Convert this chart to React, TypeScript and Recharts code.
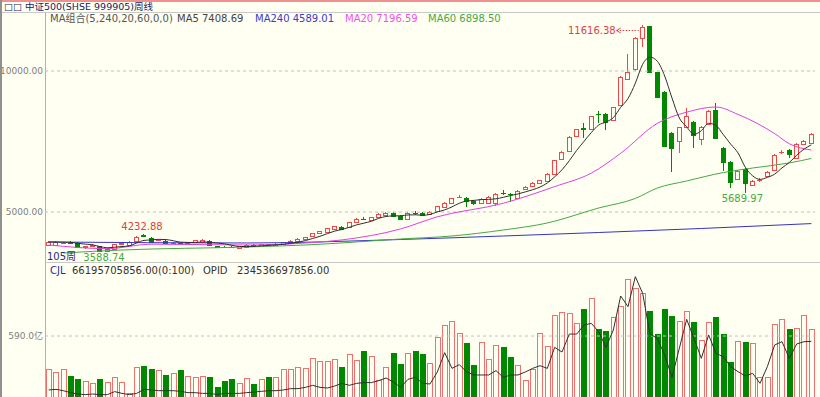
import React from "react";
import {
  ComposedChart,
  Bar,
  Line,
  XAxis,
  YAxis,
  ReferenceLine,
  ReferenceDot,
} from "recharts";

// weekly bars of 中证500 (105 weeks)
const opens = [
  3830, 3840, 3900, 3910, 3900, 3760, 3790, 3780, 3600, 3700,
  3880, 3840, 3970, 4170, 4080, 3990, 3970, 3890, 3905, 3890,
  3940, 3950, 3980, 3780, 3770, 3760, 3730, 3770, 3830, 3790,
  3850, 3820, 3870, 3910, 3980, 4040, 4140, 4250, 4300, 4400,
  4470, 4470, 4650, 4760, 4720, 4830, 4900, 4960, 4860, 4760,
  4980, 4960, 4920, 5030, 5180, 5320, 5520, 5500, 5390, 5320,
  5320, 5320, 5680, 5650, 5500, 5820, 5920, 6030, 6100, 6350,
  6880, 7160, 7690, 7990, 7940, 8480, 8480, 8260, 8790, 9720,
  10070, 11170, 11590, 9960, 9255, 7800, 7520, 8010, 8190, 7590,
  8120, 8620, 7270, 6770, 6170, 6520, 5960, 6120, 6280, 6490,
  7110, 7200, 6920, 7410, 7450,
];
const closes = [
  3936, 3940, 3915, 3895, 3760, 3790, 3820, 3600, 3690, 3860,
  3905, 3940, 4110, 4150, 3940, 4010, 3900, 3905, 3890, 3900,
  4000, 4000, 3840, 3760, 3750, 3745, 3790, 3830, 3790, 3850,
  3820, 3880, 3920, 3970, 4050, 4110, 4250, 4320, 4430, 4500,
  4400, 4640, 4750, 4740, 4820, 4930, 4960, 4860, 4760, 4970,
  4950, 4890, 5000, 5210, 5320, 5490, 5540, 5390, 5320, 5460,
  5530, 5640, 5660, 5630, 5745, 5890, 6030, 6130, 6350, 6840,
  7130, 7660, 7940, 7960, 8400, 8460, 8190, 8720, 9790, 9960,
  11170, 11560, 9965, 9080, 7340, 7270, 8010, 8400, 7730, 8010,
  8580, 7620, 6770, 6060, 6450, 6030, 6100, 6140, 6420, 7020,
  7140, 7060, 7410, 7520, 7770,
];
const highs = [
  3970, 3975, 3950, 3960, 3920, 3800, 3850, 3800, 3710, 3880,
  3940, 3960, 4140, 4232.88, 4120, 4050, 4000, 3930, 3930, 3930,
  4020, 4030, 4000, 3800, 3790, 3790, 3810, 3850, 3850, 3870,
  3870, 3900, 3940, 3990, 4070, 4130, 4270, 4340, 4450, 4520,
  4500, 4660, 4780, 4810, 4840, 4950, 4990, 4990, 4880, 4990,
  5030, 4990, 5020, 5230, 5340, 5510, 5600, 5520, 5410, 5480,
  5550, 5660, 5770, 5680, 5770, 5910, 6050, 6150, 6370, 6860,
  7150, 7680, 7960, 8160, 8420, 8580, 8520, 8740, 9810, 10600,
  11200, 11616.38, 11600, 9980, 9300, 7850, 8030, 8688, 8230, 8040,
  8610, 8865, 7290, 6800, 6480, 6550, 6130, 6200, 6440, 7040,
  7200, 7220, 7430, 7540, 7800,
];
const lows = [
  3800, 3810, 3870, 3860, 3740, 3700, 3760, 3588.74, 3590, 3680,
  3850, 3820, 3950, 4100, 3920, 3960, 3880, 3860, 3860, 3860,
  3920, 3930, 3820, 3720, 3720, 3720, 3710, 3750, 3770, 3770,
  3800, 3800, 3850, 3890, 3960, 4020, 4120, 4230, 4280, 4380,
  4380, 4450, 4630, 4700, 4700, 4810, 4880, 4840, 4720, 4740,
  4900, 4870, 4900, 5010, 5160, 5300, 5500, 5180, 5260, 5300,
  5300, 5200, 5600, 5360, 5480, 5800, 5900, 6010, 6080, 6330,
  6860, 7140, 7670, 7620, 7920, 8160, 7910, 8240, 8770, 9700,
  10000, 10850, 9950, 9050, 7300, 6418, 7092, 7990, 7269, 7376,
  8100, 7600, 6454, 5851, 6150, 5689.97, 5940, 6080, 6260, 6470,
  7060, 6915, 6900, 7390, 7430,
];
// 成交量, 亿
const volumes = [
  268, 245, 274, 206, 171, 152, 132, 171, 145, 190,
  145, 42, 293, 300, 274, 261, 210, 229, 261, 203,
  190, 203, 190, 100, 152, 171, 139, 184, 126, 171,
  197, 197, 274, 268, 293, 280, 377, 351, 351, 371,
  293, 416, 358, 448, 396, 164, 293, 429, 319, 422,
  448, 416, 332, 577, 699, 732, 622, 525, 313, 532,
  371, 506, 480, 390, 313, 164, 274, 622, 493, 790,
  822, 815, 712, 854, 957, 654, 635, 777, 880, 1138,
  1054, 1002, 835, 609, 854, 783, 732, 828, 725, 551,
  725, 777, 609, 338, 538, 532, 519, 197, 197, 706,
  757, 654, 667, 796, 654,
];
// OPID line in the volume pane, same units
const opidLine = [
  68, 74, 61, 42, 29, 23, 29, 23, 23, 52,
  35, 23, 35, 74, 68, 61, 61, 61, 55, 42,
  42, 35, 35, 23, 35, 35, 35, 42, 48, 55,
  61, 61, 68, 81, 81, 93, 113, 93, 87, 106,
  132, 113, 132, 139, 139, 158, 184, 145, 93, 171,
  190, 132, 126, 242, 429, 277, 313, 242, 213, 213,
  213, 255, 190, 213, 213, 242, 277, 303, 277, 480,
  435, 609, 609, 696, 712, 632, 480, 648, 977, 874,
  1164, 1002, 609, 567, 406, 190, 471, 751, 567, 374,
  600, 422, 390, 293, 245, 203, 229, 132, 293, 503,
  535, 374, 513, 535, 538,
];
// moving averages read at a few weeks: [week, value]
const ma20Pts = [
  [0, 3830], [8, 3700], [14, 3860], [27, 3830], [35, 3900], [40, 4010],
  [48, 4400], [53, 4830], [62, 5310], [69, 5900], [74, 6380], [78, 7081],
  [83, 8145], [87, 8540], [91, 8723], [94, 8460], [99, 7780], [101, 7420],
  [104, 7196.59],
];
const ma60Pts = [
  [2, 3547], [10, 3653], [27, 3759], [35, 3830], [48, 4043], [55, 4149],
  [62, 4362], [68, 4610], [75, 5142], [80, 5480], [83, 5850], [87, 6100],
  [92, 6400], [96, 6560], [101, 6740], [104, 6898.5],
];
const ma240Pts = [
  [0, 3936], [27, 3901], [48, 4025], [62, 4149], [75, 4273], [89, 4415],
  [104, 4589.01],
];

const BG = "#fffff2";
const UP = "#f04848";
const UP_VOL = "#f07070";
const DOWN = "#008800";
const FONT = '"DejaVu Sans", "Noto Sans CJK SC", sans-serif';

const rows: any[] = opens.map((o, i) => {
  const win = closes.slice(Math.max(0, i - 4), i + 1);
  return {
    i,
    open: o,
    close: closes[i],
    high: highs[i],
    low: lows[i],
    range: [lows[i], highs[i]],
    ma5: win.reduce((a, b) => a + b, 0) / win.length,
    ma20: null,
    ma60: null,
    ma240: null,
    vol: volumes[i],
    opid: opidLine[i],
  };
});
ma20Pts.forEach(([i, v]) => (rows[i].ma20 = v));
ma60Pts.forEach(([i, v]) => (rows[i].ma60 = v));
ma240Pts.forEach(([i, v]) => (rows[i].ma240 = v));

function Candle(props: any) {
  const { x, y, width, height, payload } = props;
  if (x == null || y == null) return null;
  const top = Math.min(y, y + height);
  const h = Math.abs(height);
  const span = payload.high - payload.low;
  const k = span > 0 ? h / span : 0;
  const up = payload.close >= payload.open;
  const color = up ? UP : DOWN;
  const bTop = Math.round(top + (payload.high - Math.max(payload.open, payload.close)) * k);
  const bBot = Math.round(top + (payload.high - Math.min(payload.open, payload.close)) * k);
  const left = Math.round(x);
  const w = Math.round(width);
  const cx = left + Math.floor(w / 2) + 0.5;
  const yTop = Math.round(top);
  const yBot = Math.round(top + h);
  const flat = bBot - bTop < 1;
  if (flat) {
    return (
      <g shapeRendering="crispEdges">
        <line x1={cx} x2={cx} y1={yTop} y2={yBot} stroke={color} />
        <line x1={left} x2={left + w} y1={bTop + 0.5} y2={bTop + 0.5} stroke={color} />
      </g>
    );
  }
  if (up) {
    return (
      <g shapeRendering="crispEdges">
        <line x1={cx} x2={cx} y1={yTop} y2={bTop} stroke={color} />
        <line x1={cx} x2={cx} y1={bBot} y2={yBot} stroke={color} />
        <rect x={left + 0.5} y={bTop + 0.5} width={w - 1} height={bBot - bTop} fill={BG} stroke={color} />
      </g>
    );
  }
  return (
    <g shapeRendering="crispEdges">
      <line x1={cx} x2={cx} y1={yTop} y2={yBot} stroke={color} />
      <rect x={left} y={bTop} width={w} height={bBot - bTop + 1} fill={color} />
    </g>
  );
}

function VolBar(props: any) {
  const { x, y, width, height, payload } = props;
  if (x == null || y == null) return null;
  const up = payload.close >= payload.open;
  const left = Math.round(x);
  const w = Math.round(width);
  const t = Math.round(y);
  const hh = Math.round(y + height) - t;
  if (up) {
    return (
      <rect x={left + 0.5} y={t + 0.5} width={w - 1} height={hh} fill={BG} stroke={UP_VOL} shapeRendering="crispEdges" />
    );
  }
  return <rect x={left} y={t} width={w} height={hh + 1} fill={DOWN} shapeRendering="crispEdges" />;
}

const txt = { fontFamily: FONT, fontSize: 10 };

function PeakMark(p: any) {
  const { cx, cy } = p;
  const ly = Math.round(cy + 5) + 0.5;
  return (
    <g>
      <text x={cx - 27} y={ly} dy="0.35em" textAnchor="end" fill="#e04040" style={txt}>
        11616.38
      </text>
      <path d={`M${cx - 26},${ly} l4,-2.5 M${cx - 26},${ly} l4,2.5`} stroke="#e04040" fill="none" />
      <line x1={cx - 26} x2={cx - 4} y1={ly} y2={ly} stroke="#e04040" strokeDasharray="1.5 1.5" />
    </g>
  );
}

function TextMark(label: string, color: string, dx: number, dy: number) {
  return (p: any) => (
    <text x={p.cx + dx} y={p.cy + dy} dy="0.35em" textAnchor="middle" fill={color} style={txt}>
      {label}
    </text>
  );
}

const abs = (left: number, top: number, color: string, size = 10): React.CSSProperties => ({
  position: "absolute",
  left,
  top,
  color,
  fontSize: size,
  lineHeight: "10px",
  whiteSpace: "nowrap",
  fontFamily: FONT,
});

export default function App() {
  return (
    <div
      style={{
        position: "absolute",
        left: 0,
        top: 0,
        width: 820,
        height: 397,
        background: BG,
        overflow: "hidden",
      }}
    >
      <div style={{ position: "absolute", left: 0, top: 0, width: 820, height: 2, background: "#f09090" }} />
      <div style={{ position: "absolute", left: 0, top: 12, width: 820, height: 1, background: "#c8c8c8" }} />
      <div style={{ position: "absolute", left: 0, top: 0, width: 2, height: 397, background: "#909090" }} />
      <div style={{ position: "absolute", left: 45, top: 13, width: 1, height: 384, background: "#b0b0b0" }} />
      <div style={{ position: "absolute", left: 45, top: 262, width: 775, height: 1, background: "#c8c8c8" }} />

      <div style={abs(4, 2, "#1a1a66", 9.5)}>□□ 中证500(SHSE 999905)周线</div>

      <div style={{ position: "absolute", left: 0, top: 262 }}>
        <ComposedChart width={820} height={135} data={rows} margin={{ top: 2, right: 5, bottom: 0, left: 0 }}>
          <XAxis dataKey="i" type="category" hide />
          <YAxis
            domain={[0, 1286.4]}
            ticks={[590]}
            allowDataOverflow
            width={45}
            axisLine={false}
            tickLine={false}
            tickSize={0}
            tickMargin={2}
            interval={0}
            tick={{ fontSize: 9, fill: "#808080", fontFamily: FONT }}
            tickFormatter={(v: number) => `${v.toFixed(1)}亿`}
          />
          <ReferenceLine y={590} stroke="#c0c0c0" strokeDasharray="3 3" />
          <Bar dataKey="vol" barSize={6} shape={VolBar} isAnimationActive={false} />
          <Line dataKey="opid" type="linear" stroke="#303030" strokeWidth={1} dot={false} isAnimationActive={false} />
        </ComposedChart>
      </div>

      <div style={{ position: "absolute", left: 0, top: 0 }}>
        <ComposedChart width={820} height={268} data={rows} margin={{ top: 14, right: 5, bottom: 8, left: 0 }}>
          <XAxis dataKey="i" type="category" hide />
          <YAxis
            domain={[3297.9, 12021.3]}
            ticks={[5000, 10000]}
            allowDataOverflow
            width={45}
            axisLine={false}
            tickLine={false}
            tickSize={0}
            tickMargin={2}
            interval={0}
            tick={{ fontSize: 9, fill: "#808080", fontFamily: FONT }}
            tickFormatter={(v: number) => v.toFixed(2)}
          />
          <ReferenceLine y={10000} stroke="#c0c0c0" strokeDasharray="3 3" />
          <ReferenceLine y={5000} stroke="#c0c0c0" strokeDasharray="3 3" />
          <Line dataKey="ma240" type="monotone" stroke="#3434c4" strokeWidth={1} dot={false} connectNulls isAnimationActive={false} />
          <Line dataKey="ma60" type="monotone" stroke="#44aa44" strokeWidth={1} dot={false} connectNulls isAnimationActive={false} />
          <Line dataKey="ma20" type="monotone" stroke="#e040e0" strokeWidth={1} dot={false} connectNulls isAnimationActive={false} />
          <Bar dataKey="range" barSize={5} shape={Candle} isAnimationActive={false} />
          <Line dataKey="ma5" type="monotone" stroke="#303030" strokeWidth={1} dot={false} isAnimationActive={false} />
          <ReferenceDot x={81} y={11616.38} r={0} ifOverflow="visible" shape={PeakMark} />
          <ReferenceDot x={13} y={4232.88} r={0} ifOverflow="visible" shape={TextMark("4232.88", "#e04040", -2, -7)} />
          <ReferenceDot x={7} y={3588.74} r={0} ifOverflow="visible" shape={TextMark("3588.74", "#44aa44", 4, 6)} />
          <ReferenceDot x={95} y={5689.97} r={0} ifOverflow="visible" shape={TextMark("5689.97", "#44aa44", -3, 6)} />
        </ComposedChart>
      </div>

      <div style={abs(50, 14, "#555555")}>MA组合(5,240,20,60,0,0)</div>
      <div style={abs(177, 14, "#444444")}>MA5 7408.69</div>
      <div style={abs(255, 14, "#3a3ad0")}>MA240 4589.01</div>
      <div style={abs(345, 14, "#f050f0")}>MA20 7196.59</div>
      <div style={abs(428, 14, "#44aa44")}>MA60 6898.50</div>

      <div style={abs(47, 252, "#2a2a80")}>105周</div>

      <div style={abs(50, 266, "#2a2aa0")}>CJL</div>
      <div style={abs(72, 266, "#333333")}>66195705856.00(0:100)</div>
      <div style={abs(203, 266, "#333333")}>OPID</div>
      <div style={abs(237, 266, "#333333")}>234536697856.00</div>
    </div>
  );
}
